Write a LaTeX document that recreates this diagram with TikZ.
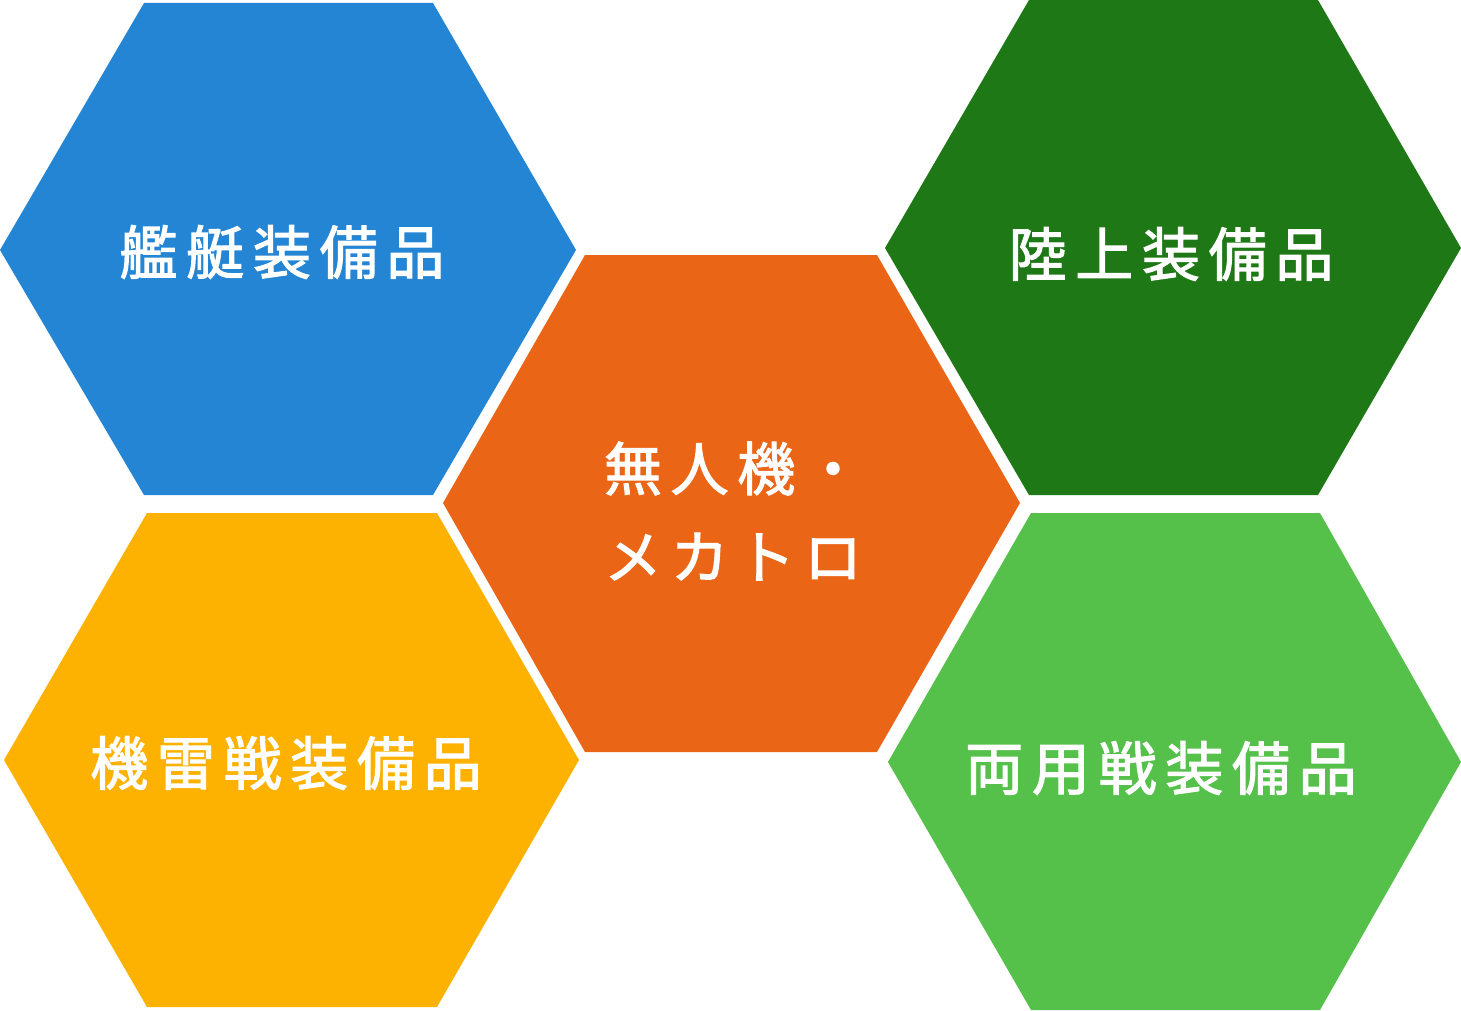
\documentclass[tikz,border=0pt]{standalone}
\usepackage{fontspec}
\newfontfamily\jp[LetterSpace=15,FakeBold=2]{Noto Sans CJK JP}
\definecolor{hexblue}{HTML}{2385D4}
\definecolor{hexorange}{HTML}{EA6516}
\definecolor{hexdark}{HTML}{1E7816}
\definecolor{hexyellow}{HTML}{FDB100}
\definecolor{hexlight}{HTML}{55C14B}
\begin{document}
\begin{tikzpicture}[x=1pt,y=-1pt,
  label/.style={text=white,font=\jp\fontsize{58}{88}\selectfont,align=center,inner sep=0pt}]
\useasboundingbox (0,0) rectangle (1461,1011);
% hexagons
\fill[hexblue] (144,3) -- (433,3) -- (576,250) -- (433,495) -- (144,495) -- (0,250) -- cycle;
\fill[hexorange] (585,255) -- (877,255) -- (1020,503) -- (877,752) -- (585,752) -- (443,503) -- cycle;
\fill[hexdark] (1029,0) -- (1318,0) -- (1461,248) -- (1318,495) -- (1029,495) -- (885,248) -- cycle;
\fill[hexyellow] (147,513) -- (437,513) -- (579,760) -- (437,1007) -- (147,1007) -- (4,760) -- cycle;
\fill[hexlight] (1031,513) -- (1320,513) -- (1461,762) -- (1320,1010) -- (1031,1010) -- (888,762) -- cycle;
% labels
\node[label] (kantei) at (282,252) {艦艇装備品};
\node[label] (mujin) at (733,511) {無人機・\\メカトロ};
\node[label] (rikujo) at (1171,254) {陸上装備品};
\node[label] (kirai) at (286,763) {機雷戦装備品};
\node[label] (ryoyo) at (1161,768) {両用戦装備品};
\end{tikzpicture}
\end{document}
